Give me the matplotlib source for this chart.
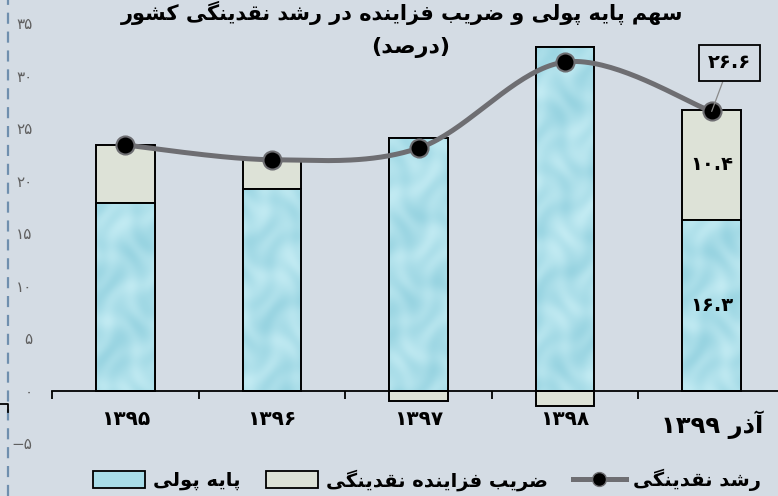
import numpy as np
import matplotlib
matplotlib.use("Agg")
import matplotlib.pyplot as plt
from matplotlib.patches import Patch
from matplotlib.lines import Line2D

# ---------------- data ----------------
categories = ["۱۳۹۵", "۱۳۹۶", "۱۳۹۷", "۱۳۹۸", "آذر ۱۳۹۹"]
monetary_base = [17.9, 19.2, 24.1, 32.7, 16.3]      # پایه پولی
money_multiplier = [5.5, 2.8, -1.0, -1.4, 10.4]     # ضریب فزاینده نقدینگی
liquidity_growth = [23.4, 22.0, 23.1, 31.3, 26.6]   # رشد نقدینگی
y_ticks = [-5, 0, 5, 10, 15, 20, 25, 30, 35]
title_line1 = "سهم پایه پولی و ضریب فزاینده در رشد نقدینگی کشور"
title_line2 = "(درصد)"
legend_labels = ["پایه پولی", "ضریب فزاینده نقدینگی", "رشد نقدینگی"]

# ---------------- simple Persian shaping (no shaping engine in matplotlib) ----------------
FORMS = {
    'ا': ('\uFE8D', '\uFE8E', None, None),
    'آ': ('\uFE81', '\uFE82', None, None),
    'ب': ('\uFE8F', '\uFE90', '\uFE91', '\uFE92'),
    'پ': ('\uFB56', '\uFB57', '\uFB58', '\uFB59'),
    'د': ('\uFEA9', '\uFEAA', None, None),
    'ذ': ('\uFEAB', '\uFEAC', None, None),
    'ر': ('\uFEAD', '\uFEAE', None, None),
    'ز': ('\uFEAF', '\uFEB0', None, None),
    'س': ('\uFEB1', '\uFEB2', '\uFEB3', '\uFEB4'),
    'ش': ('\uFEB5', '\uFEB6', '\uFEB7', '\uFEB8'),
    'ص': ('\uFEB9', '\uFEBA', '\uFEBB', '\uFEBC'),
    'ض': ('\uFEBD', '\uFEBE', '\uFEBF', '\uFEC0'),
    'ف': ('\uFED1', '\uFED2', '\uFED3', '\uFED4'),
    'ق': ('\uFED5', '\uFED6', '\uFED7', '\uFED8'),
    'ک': ('\uFB8E', '\uFB8F', '\uFB90', '\uFB91'),
    'گ': ('\uFB92', '\uFB93', '\uFB94', '\uFB95'),
    'ل': ('\uFEDD', '\uFEDE', '\uFEDF', '\uFEE0'),
    'م': ('\uFEE1', '\uFEE2', '\uFEE3', '\uFEE4'),
    'ن': ('\uFEE5', '\uFEE6', '\uFEE7', '\uFEE8'),
    'ه': ('\uFEE9', '\uFEEA', '\uFEEB', '\uFEEC'),
    'و': ('\uFEED', '\uFEEE', None, None),
    'ی': ('\uFBFC', '\uFBFD', '\uFBFE', '\uFBFF'),
}
DIGITS = set("۰۱۲۳۴۵۶۷۸۹0123456789.")
MIRROR = {'(': ')', ')': '('}


def shape(text):
    out = []
    n = len(text)
    for i, ch in enumerate(text):
        if ch not in FORMS:
            out.append(ch)
            continue
        prev = text[i - 1] if i > 0 else None
        nxt = text[i + 1] if i < n - 1 else None
        dual = FORMS[ch][2] is not None
        pj = prev in FORMS and FORMS[prev][2] is not None
        nj = dual and nxt in FORMS
        iso, fin, ini, med = FORMS[ch]
        if pj and nj:
            out.append(med)
        elif pj:
            out.append(fin)
        elif nj:
            out.append(ini)
        else:
            out.append(iso)
    shaped = "".join(out)
    runs, cur, cur_d = [], "", None
    for ch in shaped:
        d = ch in DIGITS
        if cur and d != cur_d:
            runs.append((cur, cur_d))
            cur = ""
        cur += ch
        cur_d = d
    if cur:
        runs.append((cur, cur_d))
    vis = []
    for r, d in reversed(runs):
        vis.append(r if d else "".join(MIRROR.get(c, c) for c in reversed(r)))
    return "".join(vis)


def fa_num(v):
    s = str(v)
    return s.translate(str.maketrans("0123456789-", "۰۱۲۳۴۵۶۷۸۹\u2212"))


plt.rcParams['font.family'] = ['DejaVu Sans']

BG = '#d4dce4'
BLUE = '#a9dde8'
GREY = '#dde2d7'
LINE = '#6e6e72'

W, H = 778, 496
fig = plt.figure(figsize=(W / 100, H / 100), dpi=100, facecolor=BG)
ax = fig.add_axes([52 / W, 0, 733 / W, 1])
ax.set_facecolor(BG)

x = np.arange(len(categories))
ax.set_xlim(-0.5, 4.5)
ax.set_ylim(-10.0, 37.2)

base = np.array(monetary_base)
mult = np.array(money_multiplier)
bw = 0.40
b1 = ax.bar(x, base, width=bw, color=BLUE, edgecolor='black', linewidth=1.4, zorder=3)
b2 = ax.bar(x, mult, width=bw, bottom=np.where(mult > 0, base, 0), color=GREY,
            edgecolor='black', linewidth=1.4, zorder=3)

# soft water-like texture for monetary-base bars
for k, p in enumerate(b1.patches):
    bb = p.get_window_extent()
    nx, ny = max(int(bb.width), 2), max(int(bb.height), 2)
    yy, xx = np.mgrid[0:ny, 0:nx]
    ph = 1.7 * k
    t = (np.sin(xx / 7.0 + 1.5 * np.sin(yy / 11.0 + ph)) *
         np.sin(yy / 9.0 + 1.2 * np.cos(xx / 8.0 - ph)))
    t2 = np.sin((xx - yy) / 13.0 + ph)
    t = np.clip(0.55 + 0.22 * t + 0.12 * t2, 0, 1)
    dark = np.array([140, 205, 220]) / 255
    light = np.array([200, 238, 245]) / 255
    img = dark[None, None, :] * (1 - t[..., None]) + light[None, None, :] * t[..., None]
    x0, y0 = p.get_x(), p.get_y()
    im = ax.imshow(img, extent=(x0, x0 + p.get_width(), y0, y0 + p.get_height()),
                   origin='lower', aspect='auto', zorder=3.5, interpolation='bilinear')
    im.set_clip_path(p)
    ax.add_patch(plt.Rectangle((x0, y0), p.get_width(), p.get_height(), fill=False,
                               edgecolor='black', linewidth=1.4, zorder=3.6))

# smooth (Excel-like) line
yv = np.array(liquidity_growth)
px = np.concatenate([[x[0]], x, [x[-1]]]).astype(float)
py = np.concatenate([[yv[0]], yv, [yv[-1]]])
sx, sy = [], []
tt = np.linspace(0, 1, 40)
for i in range(1, len(px) - 2):
    p0, p1, p2_, p3 = [np.array([px[j], py[j]]) for j in (i - 1, i, i + 1, i + 2)]
    c1 = p1 + (p2_ - p0) / 6
    c2 = p2_ - (p3 - p1) / 6
    pts = ((1 - tt)[:, None] ** 3 * p1 + 3 * ((1 - tt) ** 2 * tt)[:, None] * c1 +
           3 * ((1 - tt) * tt ** 2)[:, None] * c2 + (tt ** 3)[:, None] * p2_)
    sx.extend(pts[:, 0]); sy.extend(pts[:, 1])
ax.plot(sx, sy, color=LINE, lw=3.6, zorder=5, solid_capstyle='round')
ax.plot(x, yv, ls='none', marker='o', ms=13, mfc='black', mec=LINE, mew=1.5, zorder=6)

# labels on last bar
last = len(categories) - 1
ax.text(x[last], base[last] / 2, fa_num(base[last]), ha='center', va='center',
        fontsize=14, fontweight='bold', zorder=7)
ax.text(x[last], base[last] + mult[last] / 2, fa_num(mult[last]), ha='center', va='center',
        fontsize=14, fontweight='bold', zorder=7)
ax.annotate(fa_num(yv[last]), xy=(x[last], yv[last]), xytext=(13, 35), textcoords='offset points',
            ha='center', va='center', fontsize=14, fontweight='bold', zorder=7,
            bbox=dict(boxstyle='square,pad=0.45', fc=BG, ec='black', lw=1.3),
            arrowprops=dict(arrowstyle='-', color='#8a8a8a', lw=0.9, shrinkA=0, shrinkB=0))

# axes styling
for s in ['top', 'right', 'left']:
    ax.spines[s].set_visible(False)
ax.spines['bottom'].set_position(('data', 0))
ax.spines['bottom'].set_linewidth(1.3)
ax.spines['bottom'].set_zorder(4)
ax.set_xticks(x)
ax.set_xticklabels([shape(c) for c in categories], fontsize=14.5, fontweight='bold')
ax.xaxis.get_majorticklabels()[-1].set_fontsize(17.5)
ax.set_xticks(np.arange(-0.5, 4.6, 1.0), minor=True)
ax.tick_params(axis='x', which='major', length=0, pad=14)
ax.tick_params(axis='x', which='minor', length=6, width=1.3, direction='out')
ax.set_yticks(y_ticks)
ax.set_yticklabels([fa_num(v) for v in y_ticks], fontsize=11, color='#606060')
ax.tick_params(axis='y', length=0, pad=14)

# titles
fig.text(402 / W, 1 - 20 / H, shape(title_line1), ha='center', va='baseline',
         fontsize=15, fontweight='bold')
fig.text(411 / W, 1 - 48 / H, shape(title_line2), ha='center', va='center',
         fontsize=16, fontweight='bold')

# dashed left rule and small bracket
fig.add_artist(Line2D([8 / W, 8 / W], [0, 1], color='#6f8fae', lw=1.6, dashes=(5, 3.5)))
fig.add_artist(Line2D([0, 8 / W, 8 / W], [1 - 404 / H, 1 - 404 / H, 1 - 412 / H],
                      color='black', lw=1.3))

# legend
handles = [Patch(facecolor=BLUE, edgecolor='black', lw=1.3),
           Patch(facecolor=GREY, edgecolor='black', lw=1.3),
           Line2D([], [], color=LINE, lw=3.6, marker='o', ms=10, mfc='black', mec=LINE)]
fig.legend(handles, [shape(l) for l in legend_labels], loc='center', ncol=3,
           bbox_to_anchor=(427 / W, 1 - 480 / H), frameon=False,
           prop={'size': 14, 'weight': 'bold'}, handlelength=2.7, handleheight=0.9,
           columnspacing=1.3, handletextpad=0.4)

fig.savefig('out.png', dpi=100, facecolor=BG)
